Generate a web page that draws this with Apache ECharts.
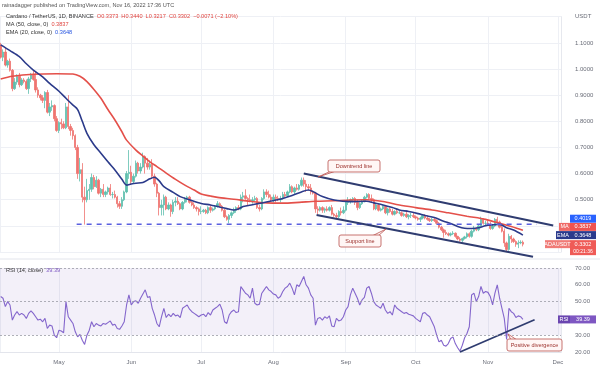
<!DOCTYPE html>
<html><head><meta charset="utf-8">
<script src="https://cdn.jsdelivr.net/npm/echarts@6/dist/echarts.min.js"></script>
<style>html,body{margin:0;padding:0;background:#fff}#c{width:600px;height:368px}</style>
</head><body><div id="c"></div>
<script>
// ---- data (daily ADA/USDT, 2022-04-06 .. 2022-11-16) ----
const firstDay = [2022, 3, 6];
const opens = [1.092,1.045,1.065,1.015,1.03,0.995,0.925,0.95,0.972,0.94,0.958,0.952,0.925,0.962,0.978,0.96,0.92,0.9,0.89,0.88,0.91,0.835,0.855,0.86,0.81,
0.765,0.795,0.79,0.775,0.855,0.78,0.765,0.745,0.7,0.6,0.615,0.51,0.5,0.535,0.54,0.585,0.55,0.575,0.525,0.54,0.52,0.53,0.545,0.52,0.52,0.51,0.485,0.475,0.5,0.53,0.6,
0.605,0.57,0.59,0.64,0.61,0.625,0.665,0.64,0.625,0.635,0.59,0.56,0.525,0.47,0.48,0.51,0.465,0.48,0.455,0.49,0.495,0.485,0.465,0.49,0.505,0.51,0.49,0.48,0.47,0.465,
0.455,0.455,0.46,0.45,0.47,0.46,0.465,0.475,0.485,0.475,0.46,0.435,0.425,0.44,0.45,0.46,0.47,0.465,0.51,0.515,0.505,0.5,0.495,0.5,0.505,0.47,0.465,0.505,0.53,0.52,0.51,
0.5,0.51,0.505,0.5,0.505,0.52,0.515,0.53,0.55,0.53,0.545,0.54,0.555,0.575,0.56,0.55,0.545,0.53,0.525,0.465,0.46,0.47,0.46,0.465,0.46,0.47,0.445,0.44,0.435,0.455,0.45,
0.46,0.49,0.495,0.5,0.505,0.49,0.47,0.485,0.495,0.51,0.52,0.505,0.5,0.465,0.48,0.46,0.465,0.475,0.45,0.465,0.455,0.445,0.455,0.45,0.45,0.44,0.445,0.435,0.44,0.44,
0.435,0.43,0.425,0.43,0.44,0.43,0.425,0.42,0.425,0.42,0.41,0.395,0.385,0.375,0.37,0.365,0.37,0.372,0.36,0.35,0.345,0.352,0.358,0.37,0.36,0.38,0.39,0.385,0.4,0.425,0.41,
0.41,0.405,0.39,0.4,0.425,0.415,0.395,0.38,0.335,0.31,0.36,0.35,0.34,0.33,0.335,0.3373];
const closes = [1.045,1.065,1.015,1.03,0.995,0.925,0.95,0.972,0.94,0.958,0.952,0.925,0.962,0.978,0.96,0.92,0.9,0.89,0.88,0.91,0.835,0.855,0.86,0.81,0.765,
0.795,0.79,0.775,0.855,0.78,0.765,0.745,0.7,0.6,0.615,0.51,0.5,0.535,0.54,0.585,0.55,0.575,0.525,0.54,0.52,0.53,0.545,0.52,0.52,0.51,0.485,0.475,0.5,0.53,0.6,0.605,
0.57,0.59,0.64,0.61,0.625,0.665,0.64,0.625,0.635,0.59,0.56,0.525,0.47,0.48,0.51,0.465,0.48,0.455,0.49,0.495,0.485,0.465,0.49,0.505,0.51,0.49,0.48,0.47,0.465,0.455,
0.455,0.46,0.45,0.47,0.46,0.465,0.475,0.485,0.475,0.46,0.435,0.425,0.44,0.45,0.46,0.47,0.465,0.51,0.515,0.505,0.5,0.495,0.5,0.505,0.47,0.465,0.505,0.53,0.52,0.51,0.5,
0.51,0.505,0.5,0.505,0.52,0.515,0.53,0.55,0.53,0.545,0.54,0.555,0.575,0.56,0.55,0.545,0.53,0.525,0.465,0.46,0.47,0.46,0.465,0.46,0.47,0.445,0.44,0.435,0.455,0.45,0.46,
0.49,0.495,0.5,0.505,0.49,0.47,0.485,0.495,0.51,0.52,0.505,0.5,0.465,0.48,0.46,0.465,0.475,0.45,0.465,0.455,0.445,0.455,0.45,0.45,0.44,0.445,0.435,0.44,0.44,0.435,
0.43,0.425,0.43,0.44,0.43,0.425,0.42,0.425,0.42,0.41,0.395,0.385,0.375,0.37,0.365,0.37,0.372,0.36,0.35,0.345,0.352,0.358,0.37,0.36,0.38,0.39,0.385,0.4,0.425,0.41,0.41,
0.405,0.39,0.4,0.425,0.415,0.395,0.38,0.335,0.31,0.36,0.35,0.34,0.33,0.335,0.3373,0.3302];
const highs = [1.10,1.075,1.08,1.035,1.04,1.00,0.965,0.98,0.985,0.965,0.965,0.96,0.97,0.985,0.995,0.99,0.93,0.905,0.9,0.915,0.92,0.87,0.88,0.865,0.82,
0.8,0.81,0.8,0.87,0.9,0.79,0.775,0.75,0.71,0.66,0.64,0.55,0.58,0.56,0.6,0.595,0.59,0.58,0.545,0.56,0.535,0.55,0.56,0.53,0.535,0.515,0.495,0.51,0.535,0.61,0.69,
0.63,0.6,0.65,0.645,0.64,0.68,0.67,0.66,0.65,0.655,0.6,0.565,0.53,0.5,0.52,0.515,0.49,0.485,0.5,0.51,0.51,0.49,0.495,0.51,0.515,0.515,0.5,0.49,0.475,0.47,
0.475,0.465,0.465,0.475,0.48,0.47,0.48,0.495,0.49,0.48,0.465,0.44,0.445,0.455,0.47,0.475,0.48,0.52,0.53,0.54,0.51,0.52,0.51,0.515,0.51,0.48,0.51,0.54,0.54,0.535,0.52,
0.52,0.52,0.515,0.515,0.53,0.53,0.535,0.56,0.555,0.55,0.56,0.56,0.585,0.585,0.575,0.56,0.56,0.535,0.53,0.475,0.475,0.475,0.47,0.475,0.475,0.48,0.45,0.45,0.46,0.47,0.475,
0.495,0.51,0.505,0.51,0.51,0.5,0.49,0.5,0.515,0.525,0.525,0.52,0.505,0.485,0.485,0.47,0.48,0.48,0.47,0.47,0.465,0.46,0.465,0.46,0.455,0.45,0.46,0.445,0.45,0.45,
0.44,0.435,0.435,0.445,0.445,0.44,0.43,0.43,0.43,0.425,0.415,0.4,0.39,0.385,0.375,0.375,0.38,0.375,0.362,0.357,0.355,0.362,0.375,0.375,0.385,0.4,0.395,0.405,0.435,0.43,0.42,
0.42,0.415,0.405,0.43,0.435,0.42,0.4,0.39,0.34,0.37,0.365,0.355,0.345,0.345,0.345,0.344];
const lows = [1.04,1.03,1.01,1.005,0.99,0.915,0.92,0.94,0.93,0.935,0.945,0.92,0.905,0.95,0.955,0.91,0.89,0.88,0.87,0.85,0.83,0.82,0.84,0.8,0.76,
0.755,0.77,0.77,0.77,0.77,0.745,0.73,0.69,0.58,0.57,0.49,0.405,0.49,0.5,0.53,0.54,0.545,0.52,0.51,0.51,0.51,0.52,0.515,0.505,0.505,0.47,0.465,0.465,0.495,0.525,0.58,
0.56,0.56,0.585,0.6,0.6,0.62,0.6,0.615,0.615,0.58,0.55,0.51,0.44,0.44,0.44,0.46,0.46,0.435,0.445,0.475,0.48,0.46,0.46,0.485,0.49,0.485,0.475,0.465,0.455,0.44,
0.445,0.45,0.445,0.445,0.45,0.455,0.46,0.47,0.47,0.455,0.43,0.42,0.41,0.43,0.445,0.45,0.46,0.46,0.49,0.5,0.48,0.49,0.485,0.495,0.465,0.455,0.46,0.5,0.51,0.505,0.495,
0.49,0.49,0.495,0.49,0.5,0.51,0.51,0.525,0.525,0.52,0.535,0.535,0.55,0.55,0.53,0.535,0.52,0.52,0.45,0.445,0.455,0.45,0.45,0.455,0.455,0.44,0.435,0.43,0.43,0.44,0.445,
0.455,0.48,0.485,0.49,0.48,0.46,0.465,0.48,0.49,0.505,0.5,0.49,0.46,0.46,0.455,0.455,0.46,0.445,0.44,0.45,0.44,0.44,0.445,0.445,0.435,0.435,0.43,0.425,0.43,0.43,
0.425,0.42,0.415,0.425,0.425,0.42,0.415,0.415,0.415,0.405,0.39,0.38,0.355,0.365,0.36,0.36,0.365,0.355,0.345,0.34,0.338,0.348,0.352,0.355,0.355,0.375,0.38,0.38,0.395,0.405,0.4,
0.4,0.385,0.385,0.395,0.41,0.39,0.375,0.32,0.3,0.305,0.335,0.335,0.32,0.315,0.33,0.3217];
const rsiValues = [53,52,47,50,48,39,42,44,42,43,42,40,43,44.5,43,41,39,39.5,38,40,34,36,35.5,30,28.5,
33,32.5,31.5,50,41,39,37,32,29,30.5,27,24.5,30,33,38,35,37,36,35.5,37,36.5,37.5,38.5,36,36.5,34,33.5,35.5,38,48,54,
48,50,50.5,49,52,54.5,57,52.5,53,46,42,37,35,41,46,40.5,42.5,41,43,41.5,42,40.5,46,47,48,45.5,44,43,42,41,
42,42.5,41,43.5,42,45,46,47,48.5,45,38,37,42,44,45,43.5,44,59,57,55,54,52,58,49,48,48.5,55,57,59,57,56,
54.5,54,52,53,56,58,59,61,58,54,60,59,62,65,60,58,54,52,36,40,40.5,39,41,40,41.5,35.5,35,40,38.5,39,41,
45,47,54,58,55,52,48,51,52.5,58,59,55,50,48,47,46,49,45,43,44,42,48,46,45,44,43,43.5,42.5,42,41.5,
40,39,38,43,43.5,42,41,38,35,30,26,27,24,23.5,25,28,29,25,22.5,20.5,24,28.5,31,35,54,55,50,53,59,55,56,
55.5,53,48,55,60,52,46,40,27.5,46,44,43,40.5,41.5,41,39.39];
// moving averages (date, value)
const maDates = ['04-06','04-11','04-20','04-30','05-07','05-10','05-13','05-16','05-19','05-22','05-25','05-28','05-30','06-03','06-06','06-09','06-12','06-16','06-20','06-24','06-28','07-01','07-05','07-08','07-15','07-22','07-29','08-05','08-12','08-19','08-27','09-03','09-10','09-17','09-24','10-01','10-08','10-15','10-23','10-31','11-06','11-11','11-16'];
const maValues = [0.962,0.972,0.98,0.982,0.981,0.972,0.952,0.922,0.888,0.845,0.805,0.76,0.728,0.69,0.667,0.645,0.627,0.602,0.578,0.556,0.537,0.522,0.514,0.509,0.502,0.494,0.488,0.487,0.49,0.494,0.496,0.499,0.5,0.493,0.48,0.47,0.461,0.45,0.437,0.425,0.41,0.398,0.3837];
const emaDates = ['04-06','04-10','04-14','04-17','04-20','04-24','04-27','05-01','05-04','05-07','05-09','05-11','05-13','05-16','05-19','05-22','05-25','05-28','05-30','06-01','06-03','06-06','06-09','06-11','06-13','06-15','06-19','06-22','06-26','07-01','07-05','07-08','07-12','07-15','07-17','07-19','07-23','07-26','07-31','08-05','08-09','08-13','08-16','08-18','08-22','08-27','09-03','09-10','09-13','09-17','09-21','09-24','09-28','10-02','10-05','10-09','10-13','10-16','10-19','10-22','10-25','10-28','10-31','11-03','11-06','11-09','11-12','11-16'];
const emaValues = [1.092,1.07,1.047,1.02,0.996,0.97,0.945,0.915,0.888,0.862,0.845,0.8,0.754,0.71,0.678,0.645,0.614,0.578,0.556,0.56,0.563,0.566,0.58,0.586,0.572,0.55,0.528,0.512,0.5,0.486,0.48,0.474,0.466,0.461,0.465,0.474,0.481,0.486,0.495,0.505,0.516,0.53,0.537,0.531,0.512,0.499,0.493,0.494,0.488,0.48,0.47,0.461,0.455,0.447,0.44,0.432,0.418,0.409,0.398,0.391,0.39,0.393,0.401,0.404,0.406,0.393,0.384,0.3648];
// drawn lines (date, value)
const downtrend = [['2022-08-14', 0.600], ['2022-11-29', 0.4019]];
const supportLine = [['2022-08-19 12:00', 0.442], ['2022-11-20 08:00', 0.282]];
const supportLevel = [['2022-05-08 14:00', 0.406], ['2022-11-22', 0.406]];
const rsiTrend = [['2022-10-20', 20.0], ['2022-11-21', 39.2]];
const monthLabels = ['Jan','Feb','Mar','Apr','May','Jun','Jul','Aug','Sep','Oct','Nov','Dec'];
const lastValues = {trend: 0.4019, ma: 0.3837, ema: 0.3648, close: 0.3302, rsi: 39.39};

// ---- build ----
const dates = opens.map((_, i) => Date.UTC(firstDay[0], firstDay[1], firstDay[2] + i));
const candles = dates.map((d, i) => [d, opens[i], closes[i], lows[i], highs[i]]);
const rsiData = dates.map((d, i) => [d, rsiValues[i]]);
const toD = s => '2022-' + s;
const maData = maDates.map((s, i) => [toD(s), maValues[i]]);
const emaData = emaDates.map((s, i) => [toD(s), emaValues[i]]);

const FONT = 'Liberation Sans, Arial, sans-serif';
const tMin = Date.UTC(2022, 3, 5, 17);
const tMax = Date.UTC(2022, 11, 2, 8);
const gridLine = {show: true, lineStyle: {color: '#eef0f5', width: 1}};

const chart = echarts.init(document.getElementById('c'), null, {renderer: 'canvas'});
const option = {
  animation: false,
  useUTC: true,
  backgroundColor: '#ffffff',
  textStyle: {fontFamily: FONT},
  grid: [
    {left: 0, right: 39, top: 16.7, height: 235.35},
    {left: 0, right: 39, top: 268, height: 84}
  ],
  xAxis: [
    {type: 'time', gridIndex: 0, min: tMin, max: tMax, splitNumber: 7,
     axisLabel: {show: false}, axisTick: {show: false}, axisLine: {show: false}, splitLine: gridLine},
    {type: 'time', gridIndex: 1, min: tMin, max: tMax, splitNumber: 7,
     axisLabel: {fontSize: 6, color: '#6a6d78', margin: 7, showMinLabel: false, showMaxLabel: false, fontFamily: FONT,
       formatter: v => { const d = new Date(v); return d.getUTCDate() === 1 ? monthLabels[d.getUTCMonth()] : ''; }},
     axisTick: {show: false}, axisLine: {show: true, lineStyle: {color: '#e3e5ec'}}, splitLine: gridLine}
  ],
  yAxis: [
    {type: 'value', gridIndex: 0, position: 'right', min: 0.3, max: 1.2, interval: 0.1,
     axisLabel: {fontSize: 6, color: '#6a6d78', margin: 14, fontFamily: FONT,
       formatter: v => v > 1.15 ? 'USDT' : (v < 0.45 ? '' : v.toFixed(4))},
     axisLine: {show: true, lineStyle: {color: '#e6e8ee'}}, axisTick: {show: false}, splitLine: gridLine},
    {type: 'value', gridIndex: 1, position: 'right', min: 20, max: 70, interval: 10,
     axisLabel: {fontSize: 6, color: '#6a6d78', margin: 14, fontFamily: FONT, formatter: v => v.toFixed(2)},
     axisLine: {show: true, lineStyle: {color: '#e6e8ee'}}, axisTick: {show: false}, splitLine: {show: false}}
  ],
  series: [
    {type: 'candlestick', xAxisIndex: 0, yAxisIndex: 0, data: candles, barWidth: 1.9,
     encode: {x: 0, y: [1, 2, 3, 4]},
     itemStyle: {color: '#5fbfae', color0: '#ef7470', borderColor: '#5fbfae', borderColor0: '#ef7470', borderWidth: 0.8}},
    {type: 'line', xAxisIndex: 0, yAxisIndex: 0, data: maData, showSymbol: false, smooth: 0.3,
     lineStyle: {color: '#e4504a', width: 1.6}},
    {type: 'line', xAxisIndex: 0, yAxisIndex: 0, data: emaData, showSymbol: false, smooth: 0.3,
     lineStyle: {color: '#2b3a8a', width: 1.6}},
    {type: 'line', xAxisIndex: 0, yAxisIndex: 0, data: supportLevel, showSymbol: false, clip: false,
     lineStyle: {color: '#5a60e0', width: 1.5, type: [5, 5]}},
    {type: 'line', xAxisIndex: 0, yAxisIndex: 0, data: downtrend, showSymbol: false, clip: false,
     lineStyle: {color: '#2f3c70', width: 2}},
    {type: 'line', xAxisIndex: 0, yAxisIndex: 0, data: supportLine, showSymbol: false, clip: false,
     lineStyle: {color: '#2f3c70', width: 2}},
    {type: 'line', xAxisIndex: 1, yAxisIndex: 1, data: rsiData, showSymbol: false, clip: false,
     lineStyle: {color: '#8466cc', width: 1.1},
     markArea: {silent: true, itemStyle: {color: 'rgba(126,87,194,0.09)'}, data: [[{yAxis: 30}, {yAxis: 70}]]},
     markLine: {silent: true, symbol: 'none', label: {show: false},
       lineStyle: {color: '#9a9ca6', type: [2, 2], width: 0.8}, data: [{yAxis: 70}, {yAxis: 50}, {yAxis: 30}]}},
    {type: 'line', xAxisIndex: 1, yAxisIndex: 1, data: rsiTrend, showSymbol: false, clip: false,
     lineStyle: {color: '#2f3c70', width: 1.8}}
  ]
};
chart.setOption(option);

// ---- price-scale labels, stacked like the platform does ----
const py = v => chart.convertToPixel({yAxisIndex: 0}, v);
const ry = v => chart.convertToPixel({yAxisIndex: 1}, v);
const g = [];
const BX = 570, BW = 26, FS = 5.5;
function box(x, yc, w, h, fill, text, color) {
  g.push({type: 'rect', shape: {x: x, y: yc - h / 2, width: w, height: h}, style: {fill: fill}, z: 100});
  g.push({type: 'text', x: x + w / 2, y: yc, style: {text: text, fill: color || '#fff', font: FS + 'px ' + FONT, align: 'center', verticalAlign: 'middle'}, z: 101});
}
const yClose = py(lastValues.close);
g.push({type: 'rect', shape: {x: BX, y: yClose - 4, width: BW, height: 15}, style: {fill: '#ef5b57'}, z: 100});
g.push({type: 'text', x: BX + BW / 2, y: yClose, style: {text: lastValues.close.toFixed(4), fill: '#fff', font: FS + 'px ' + FONT, align: 'center', verticalAlign: 'middle'}, z: 101});
g.push({type: 'text', x: BX + BW / 2, y: yClose + 7, style: {text: '00:21:36', fill: '#fff', font: '5px ' + FONT, align: 'center', verticalAlign: 'middle'}, z: 101});
box(BX - 25, yClose, 25, 8, '#f07a76', 'ADAUSDT');
let stackTop = yClose - 4;
const yEma = Math.min(py(lastValues.ema), stackTop - 4.2);
box(BX, yEma, BW, 8, '#2a3a8c', lastValues.ema.toFixed(4));
box(BX - 14, yEma, 14, 8, '#2a3a8c', 'EMA');
stackTop = yEma - 4;
const yMa = Math.min(py(lastValues.ma), stackTop - 4.2);
box(BX, yMa, BW, 8, '#ef5350', lastValues.ma.toFixed(4));
box(BX - 11, yMa, 11, 8, '#f06a66', 'MA');
stackTop = yMa - 4;
const yTr = Math.min(py(lastValues.trend), stackTop - 4.2);
box(BX, yTr, BW, 8, '#2962ff', lastValues.trend.toFixed(4));
const yR = ry(lastValues.rsi);
box(BX, yR, BW, 8, '#7e57c2', lastValues.rsi.toFixed(2));
box(BX - 12, yR, 12, 8, '#6a45b0', 'RSI');

// ---- header texts ----
function rich(x, y, parts) {
  const richStyles = {}; let s = '';
  parts.forEach((p, i) => { richStyles['p' + i] = {fill: p[1], font: '5.6px ' + FONT}; s += '{p' + i + '|' + p[0] + '}'; });
  g.push({type: 'text', x: x, y: y, style: {text: s, rich: richStyles, verticalAlign: 'middle'}, z: 100});
}
rich(2, 5, [['rainadagger published on TradingView.com, Nov 16, 2022 17:36 UTC', '#555']]);
rich(6, 16.7, [['Cardano / TetherUS, 1D, BINANCE  ', '#333'], ['O0.3373  H0.3440  L0.3217  C0.3302  \u22120.0071 (\u22122.10%)', '#e0443f']]);
rich(6, 24.5, [['MA (50, close, 0)  ', '#333'], ['0.3837', '#e0443f']]);
rich(6, 32.5, [['EMA (20, close, 0)  ', '#333'], ['0.3648', '#2453e0']]);
rich(6, 270, [['RSI (14, close)  ', '#333'], ['39.39', '#7e57c2']]);

// ---- pane separator ----
g.push({type: 'line', shape: {x1: 0, y1: 259, x2: 600, y2: 259}, style: {stroke: '#e3e5ec', lineWidth: 1}, z: 50});

// ---- callouts ----
function callout(x, y, w, h, tail, text) {
  g.push({type: 'polygon', shape: {points: tail}, style: {fill: '#fff6f5', stroke: '#b9514c', lineWidth: 0.8}, z: 110});
  g.push({type: 'rect', shape: {x: x, y: y, width: w, height: h, r: 2}, style: {fill: '#fff6f5', stroke: '#b9514c', lineWidth: 0.8}, z: 111});
  g.push({type: 'text', x: x + w / 2, y: y + h / 2, style: {text: text, fill: '#9b2f2a', font: '5.5px ' + FONT, align: 'center', verticalAlign: 'middle'}, z: 112});
}
callout(328, 160, 52, 12, [[331, 171], [318, 177], [336, 171]], 'Downtrend line');
callout(339, 235, 42, 12, [[372, 236], [386, 229], [378, 236]], 'Support line');
callout(507, 339, 55, 12, [[511, 340], [508, 334], [517, 340]], 'Positive divergence');

chart.setOption({graphic: g});
</script></body></html>
